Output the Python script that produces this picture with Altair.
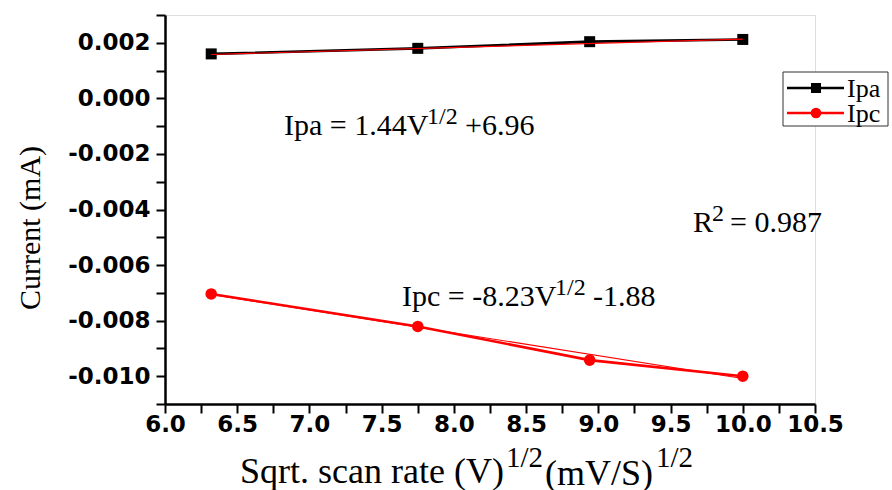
import altair as alt
import pandas as pd

# Square root of scan rate and peak currents (mA)
sqrt_scan_rate = [6.32, 7.75, 8.94, 10.0]
ipa_current = [0.00160, 0.00180, 0.00204, 0.00212]
ipc_current = [-0.00704, -0.00821, -0.00942, -0.01000]

# Linear fit end points
fit_x = [6.32, 10.0]
ipa_fit = [0.00158, 0.00213]
ipc_fit = [-0.00706, -0.01008]

series_names = ["Ipa", "Ipc"]
series_colors = ["#000000", "#ff0000"]

x_ticks = [6.0, 6.25, 6.5, 6.75, 7.0, 7.25, 7.5, 7.75, 8.0, 8.25, 8.5,
           8.75, 9.0, 9.25, 9.5, 9.75, 10.0, 10.25, 10.5]
y_ticks = [-0.011, -0.010, -0.009, -0.008, -0.007, -0.006, -0.005, -0.004,
           -0.003, -0.002, -0.001, 0.0, 0.001, 0.002, 0.003]

measured = pd.DataFrame({
    "x": sqrt_scan_rate * 2,
    "y": ipa_current + ipc_current,
    "series": [series_names[0]] * len(ipa_current) + [series_names[1]] * len(ipc_current),
})
fits = pd.DataFrame({
    "x": fit_x * 2,
    "y": ipa_fit + ipc_fit,
    "series": [series_names[0]] * 2 + [series_names[1]] * 2,
})

SERIF = "Liberation Serif"
SANS = "DejaVu Sans"

common_axis = dict(
    title=None, grid=False, domainColor="black", domainWidth=2.5,
    tickColor="black", tickWidth=2, tickSize=9, labelFont=SANS,
    labelFontWeight="bold", labelFontSize=23, labelColor="black",
    labelOverlap=False, labelFlush=False,
)
x_axis = alt.Axis(
    values=x_ticks,
    labelExpr="round(datum.value * 4) % 2 == 0 ? format(datum.value, '.1f') : ''",
    labelPadding=0, **common_axis,
)
y_axis = alt.Axis(
    values=y_ticks,
    labelExpr="abs(round(datum.value * 1000)) % 2 == 0 ? "
              "(datum.value < -1e-9 ? '-' : '') + format(abs(datum.value), '.3f') : ''",
    labelPadding=6, **common_axis,
)

x_enc = alt.X("x:Q", scale=alt.Scale(domain=[6.0, 10.5], nice=False, zero=False), axis=x_axis)
y_enc = alt.Y("y:Q", scale=alt.Scale(domain=[-0.011, 0.003], nice=False, zero=False), axis=y_axis)
color_enc = alt.Color("series:N", scale=alt.Scale(domain=series_names, range=series_colors), legend=None)

lines = alt.Chart(measured).mark_line(strokeWidth=2.6).encode(
    x=x_enc, y=y_enc, color=color_enc, detail="series:N")

squares = alt.Chart(measured).transform_filter(
    alt.datum.series == series_names[0]
).mark_point(shape="square", filled=True, size=121, opacity=1).encode(
    x=x_enc, y=y_enc, color=color_enc)

circles = alt.Chart(measured).transform_filter(
    alt.datum.series == series_names[1]
).mark_point(shape="circle", filled=True, size=135, opacity=1).encode(
    x=x_enc, y=y_enc, color=color_enc)

fit_lines = alt.Chart(fits).mark_line(strokeWidth=1.1, color="#ff0000").encode(
    x=x_enc, y=y_enc, detail="series:N")


def text(s, x, y, size, font=SERIF, align="left", baseline="alphabetic", **kw):
    return alt.Chart(alt.Data(values=[{}])).mark_text(
        text=s, font=font, fontSize=size, align=align, baseline=baseline,
        color="black", **kw
    ).encode(x=alt.value(x), y=alt.value(y))


# Regression equations
annotations = [
    text("Ipa = 1.44V", 119, 120, 30),
    text("1/2", 262, 109, 24),
    text("+6.96", 300, 120, 30),
    text("Ipc = -8.23V", 237, 291, 30),
    text("1/2", 390, 280, 24),
    text("-1.88", 428, 291, 30),
    text("R", 528, 217, 30),
    text("2", 547, 206, 24),
    text("= 0.987", 565, 217, 30),
]

# Axis titles
titles = [
    text("Current (mA)", -134, 213, 30, align="center", baseline="middle", angle=270),
    text("Sqrt. scan rate (V)", 75, 468, 36),
    text("1/2", 341, 452, 29),
    text("(mV/S)", 380, 470, 36),
    text("1/2", 491, 452, 29),
]

# Legend
legend_box = alt.Chart(alt.Data(values=[{}])).mark_rect(
    fill="white", stroke="#333333", strokeWidth=1
).encode(x=alt.value(618), x2=alt.value(723), y=alt.value(57), y2=alt.value(111))

legend_parts = []
for name, col, shape, size, ly in [
    (series_names[0], series_colors[0], "square", 100, 73),
    (series_names[1], series_colors[1], "circle", 115, 98),
]:
    legend_parts.append(
        alt.Chart(alt.Data(values=[{}])).mark_rule(color=col, strokeWidth=2.6).encode(
            x=alt.value(622), x2=alt.value(679), y=alt.value(ly)))
    legend_parts.append(
        alt.Chart(alt.Data(values=[{}])).mark_point(
            shape=shape, filled=True, size=size, color=col, opacity=1
        ).encode(x=alt.value(651), y=alt.value(ly)))
    legend_parts.append(text(name, 682, ly + 1, 26, baseline="middle"))

chart = alt.layer(
    lines, squares, circles, fit_lines, *annotations, *titles, legend_box, *legend_parts
).properties(
    width=650, height=389,
    autosize=alt.AutoSizeParams(type="none"),
    padding={"left": 165, "top": 15, "right": 77, "bottom": 86},
).configure_view(stroke=None).configure(background="white")

chart.save("out.html", embed_options={"renderer": "svg", "actions": False})
